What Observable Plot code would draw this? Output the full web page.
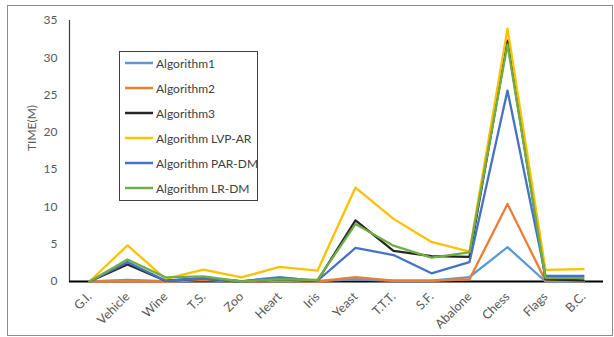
<!DOCTYPE html>
<html>
<head>
<meta charset="utf-8">
<script src="https://cdn.jsdelivr.net/npm/d3@7"></script>
<script src="https://cdn.jsdelivr.net/npm/@observablehq/plot@0.6"></script>
<style>
  body { margin: 0; background: #fff; }
  #wrap { position: relative; width: 614px; height: 337px; overflow: hidden; }
  #border { position: absolute; left: 7px; top: 5px; width: 604px; height: 329px; border: 1px solid #8c8c8c; pointer-events: none; }
  #legend { position: absolute; left: 119px; top: 51px; width: 137px; height: 148px; border: 1px solid #404040; background: #fff; font-family: Lato, "Open Sans", sans-serif; font-size: 12px; color: #404040; }
  .item { position: absolute; left: 5px; height: 16px; display: flex; align-items: center; white-space: nowrap; }
  .item svg { margin-right: 3px; flex: none; }
  #chart { position: absolute; left: 0; top: 0; }
</style>
</head>
<body>
<div id="wrap">
  <div id="border"></div>
  <div id="chart"></div>
  <div id="legend"></div>
</div>
<script>
const categories = ["G.I.", "Vehicle", "Wine", "T.S.", "Zoo", "Heart", "Iris", "Yeast", "T.T.T.", "S.F.", "Abalone", "Chess", "Flags", "B.C."];
const seriesNames = ["Algorithm1", "Algorithm2", "Algorithm3", "Algorithm LVP-AR", "Algorithm PAR-DM", "Algorithm LR-DM"];
const seriesColors = ["#5B9BD5", "#ED7D31", "#262626", "#FFC000", "#4472C4", "#70AD47"];
const algorithm1 = [0, 0.2, 0.05, 0.5, 0.05, 0.6, 0.05, 0.3, 0.1, 0.1, 0.6, 4.6, 0.0, 0.05];
const algorithm2 = [0, 0.05, 0.0, 0.2, 0.0, 0.1, 0.0, 0.6, 0.1, 0.1, 0.3, 10.4, 0.1, 0.05];
const algorithm3 = [0, 2.3, 0.1, 0.4, 0.0, 0.3, 0.1, 8.2, 4.1, 3.4, 3.3, 32.3, 0.3, 0.15];
const algorithmLVPAR = [0, 4.85, 0.35, 1.6, 0.55, 1.95, 1.45, 12.6, 8.4, 5.3, 4.0, 33.9, 1.55, 1.65];
const algorithmPARDM = [0, 2.6, 0.1, 0.4, 0.0, 0.5, 0.1, 4.5, 3.55, 1.1, 2.6, 25.6, 0.75, 0.75];
const algorithmLRDM = [0, 2.95, 0.55, 0.7, 0.0, 0.3, 0.2, 7.7, 4.8, 3.2, 3.9, 31.8, 0.45, 0.45];
const yTicks = [0, 5, 10, 15, 20, 25, 30, 35];
const yLabel = "TIME(M)";

const seriesValues = [algorithm1, algorithm2, algorithm3, algorithmLVPAR, algorithmPARDM, algorithmLRDM];
const rows = [];
seriesNames.forEach((s, i) => categories.forEach((c, j) => rows.push({series: s, cat: c, value: seriesValues[i][j]})));

const font = "Lato, 'Open Sans', sans-serif";
const chart = Plot.plot({
  width: 614,
  height: 337,
  marginLeft: 69,
  marginRight: 11,
  marginTop: 20,
  marginBottom: 56,
  style: {fontFamily: font, fontSize: "12px", color: "#595959", background: "transparent"},
  x: {type: "point", domain: categories, range: [88, 583], padding: 0},
  y: {domain: [0, 35], range: [281, 20]},
  color: {domain: seriesNames, range: seriesColors},
  marks: [
    Plot.frame({anchor: "left", stroke: "#404040", strokeWidth: 1.2}),
    Plot.axisY({ticks: yTicks, tickSize: 0, tickPadding: 12, label: null, fill: "#595959", fontSize: 12}),
    Plot.axisX({tickSize: 0, tickPadding: 13, tickRotate: -45, label: null, fill: "#595959", fontSize: 12.5}),
    Plot.text([yLabel], {text: d => d, frameAnchor: "left", rotate: -90, dx: -37, fill: "#595959", fontSize: 12}),
    Plot.ruleY([0], {stroke: "#000", strokeWidth: 2.2}),
    Plot.line(rows, {x: "cat", y: "value", z: "series", stroke: "series", strokeWidth: 2.3, strokeLinejoin: "round"})
  ]
});
document.getElementById("chart").appendChild(chart);

const legend = document.getElementById("legend");
seriesNames.forEach((s, i) => {
  const item = document.createElement("div");
  item.className = "item";
  item.style.top = (3 + i * 25) + "px";
  item.innerHTML = `<svg width="28" height="4"><line x1="0" x2="28" y1="2" y2="2" stroke="${seriesColors[i]}" stroke-width="2.5"/></svg><span>${s}</span>`;
  legend.appendChild(item);
});
</script>
</body>
</html>
